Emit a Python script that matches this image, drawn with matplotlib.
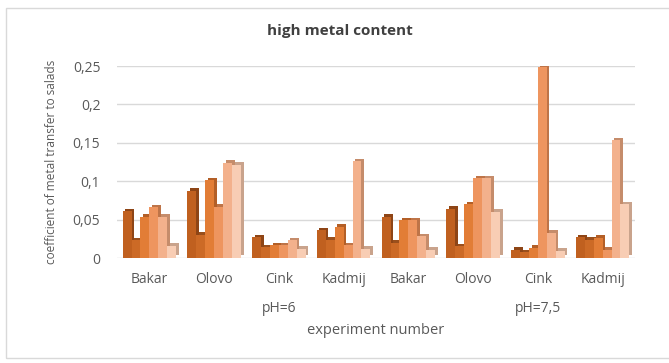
import matplotlib
matplotlib.use("Agg")
import matplotlib.pyplot as plt
import matplotlib.transforms as mtransforms
from matplotlib.patches import Rectangle
import numpy as np

# ---- data -------------------------------------------------------------
categories = ["Bakar", "Olovo", "Cink", "Kadmij", "Bakar", "Olovo", "Cink", "Kadmij"]
ph_groups = ["pH=6", "pH=7,5"]
ph_label_at = [2, 6]

# six replicate series per metal / pH combination
series_1 = [0.061, 0.0875, 0.027, 0.036, 0.054, 0.064, 0.011, 0.027]
series_2 = [0.023, 0.030, 0.014, 0.024, 0.0196, 0.015, 0.0074, 0.024]
series_3 = [0.054, 0.101, 0.0165, 0.041, 0.049, 0.070, 0.013, 0.026]
series_4 = [0.066, 0.067, 0.0165, 0.0165, 0.049, 0.104, 0.249, 0.011]
series_5 = [0.054, 0.124, 0.023, 0.126, 0.028, 0.104, 0.033, 0.153]
series_6 = [0.016, 0.1215, 0.012, 0.012, 0.011, 0.060, 0.009, 0.070]

yticks = [0, 0.05, 0.1, 0.15, 0.2, 0.25]
ytick_labels = ["0", "0,05", "0,1", "0,15", "0,2", "0,25"]

# ---- style --------------------------------------------------------------
plt.rcParams["font.family"] = ["Open Sans", "DejaVu Sans"]
text_color = "#595959"
front_colors = ["#C0601F", "#CC6A26", "#E27D36", "#EE955F", "#F3B18C", "#F8CDB4"]
side_colors = ["#8E4516", "#9A4F1C", "#B35F27", "#BE7448", "#C58C6B", "#C9A38C"]

W, H = 669, 363
fig = plt.figure(figsize=(W / 100, H / 100), dpi=100)
fig.patch.set_facecolor("white")

# light frame around the chart area
fig.add_artist(Rectangle((6 / W, 1 - 358 / H), 700 / W, (358 - 8) / H,
                         transform=fig.transFigure, fill=False,
                         edgecolor="#D9D9D9", linewidth=1))

ax = fig.add_axes([117 / W, 1 - 258 / H, (635 - 117) / W, (258 - 66) / H])
ax.set_xlim(-0.5, len(categories) - 0.5)
ax.set_ylim(0, 0.25)

all_series = [series_1, series_2, series_3, series_4, series_5, series_6]
n = len(all_series)
bar_w = 0.138
x = np.arange(len(categories))

# depth offset giving the columns a shallow 3-D look
depth = mtransforms.ScaledTranslation(2.6 / 100, 2.6 / 100, fig.dpi_scale_trans)
back_trans = ax.transData + depth

for i, vals in enumerate(all_series):
    pos = x + (i - (n - 1) / 2) * bar_w
    ax.bar(pos, vals, width=bar_w, color=side_colors[i], linewidth=0,
           transform=back_trans, zorder=2)
    ax.bar(pos, vals, width=bar_w, color=front_colors[i], linewidth=0, zorder=3)

ax.set_yticks(yticks)
ax.set_yticklabels(ytick_labels)
ax.set_xticks(x)
ax.set_xticklabels(categories)
ax.tick_params(axis="both", length=0, colors=text_color, labelsize=10)
ax.tick_params(axis="x", pad=10)
ax.tick_params(axis="y", pad=12)

ax.grid(axis="y", color="#D9D9D9", linewidth=1)
ax.set_axisbelow(True)
for s in ax.spines.values():
    s.set_visible(False)

for lbl, xi in zip(ph_groups, ph_label_at):
    ax.annotate(lbl, xy=(xi, 0), xycoords=("data", "axes fraction"),
                xytext=(0, -51), textcoords="offset pixels",
                ha="center", va="center", fontsize=10, color=text_color)

ax.annotate("experiment number", xy=(0.5, 0), xycoords="axes fraction",
            xytext=(0, -72), textcoords="offset pixels",
            ha="center", va="center", fontsize=10.5, color=text_color)

fig.text(52 / W, 1 - 162 / H, "coefficient of metal transfer to salads",
         rotation=90, ha="center", va="center", fontsize=8.5, color=text_color)

fig.text(340 / W, 1 - 31 / H, "high metal content", ha="center", va="center",
         fontsize=11, fontweight="bold", color="#404040")

fig.savefig("out.png", dpi=100)
